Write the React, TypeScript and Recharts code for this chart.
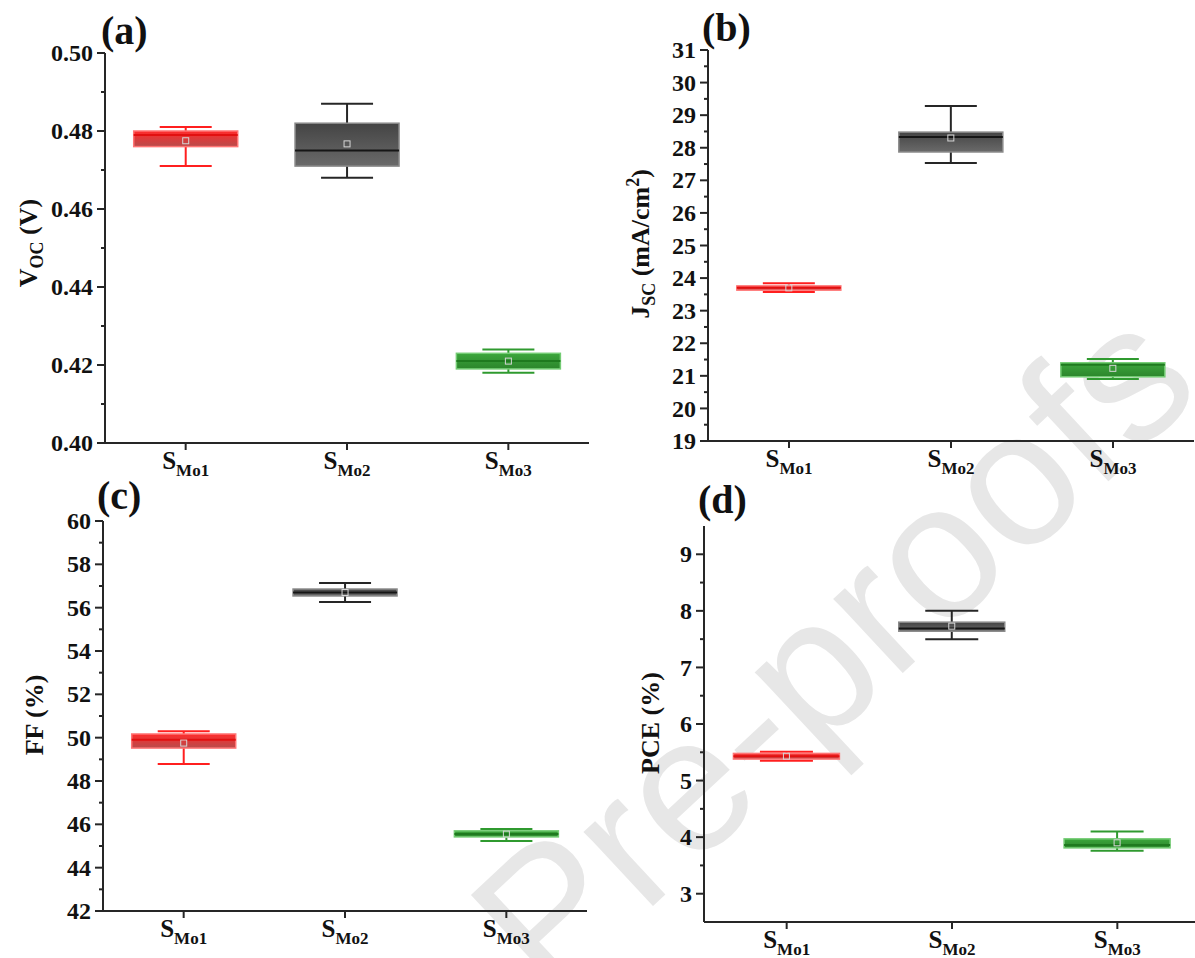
import { BarChart, Bar, XAxis, YAxis } from 'recharts';

const categories = ['SMo1', 'SMo2', 'SMo3'];

// each row: [min, Q1, median, Q3, max, mean]
const vocStats = [
  [0.471, 0.476, 0.479, 0.48, 0.481, 0.4775],
  [0.468, 0.471, 0.475, 0.482, 0.487, 0.4767],
  [0.418, 0.419, 0.421, 0.423, 0.424, 0.421],
];
const jscStats = [
  [23.57, 23.63, 23.7, 23.76, 23.84, 23.7],
  [27.53, 27.87, 28.33, 28.48, 29.28, 28.3],
  [20.9, 20.97, 21.34, 21.4, 21.52, 21.23],
];
const ffStats = [
  [48.79, 49.52, 49.9, 50.17, 50.3, 49.75],
  [56.26, 56.54, 56.7, 56.86, 57.14, 56.7],
  [45.23, 45.42, 45.55, 45.7, 45.78, 45.55],
];
const pceStats = [
  [5.35, 5.38, 5.43, 5.48, 5.51, 5.43],
  [7.5, 7.64, 7.69, 7.8, 8.0, 7.73],
  [3.76, 3.81, 3.86, 3.97, 4.1, 3.9],
];

const vocTicks = [0.4, 0.42, 0.44, 0.46, 0.48, 0.5];
const vocMinor = [0.41, 0.43, 0.45, 0.47, 0.49];
const jscTicks = [19, 20, 21, 22, 23, 24, 25, 26, 27, 28, 29, 30, 31];
const jscMinor = [19.5, 20.5, 21.5, 22.5, 23.5, 24.5, 25.5, 26.5, 27.5, 28.5, 29.5, 30.5];
const ffTicks = [42, 44, 46, 48, 50, 52, 54, 56, 58, 60];
const ffMinor = [43, 45, 47, 49, 51, 53, 55, 57, 59];
const pceTicks = [3, 4, 5, 6, 7, 8, 9];
const pceMinor = [3.5, 4.5, 5.5, 6.5, 7.5, 8.5];

const AXIS = '#262626';
const FONT = '"Liberation Serif", "Times New Roman", serif';

// box colours per sample: gradient top/bottom, edge, whisker, median
const boxFill = [
  ['#ff2b2b', '#b84c4c'],
  ['#444444', '#6a6a6a'],
  ['#3ca63c', '#2c862c'],
];
const boxEdge = ['#ff7474', '#8a8a8a', '#74cc74'];
const whiskerColor = ['#ff1f1f', '#262626', '#2f9a2f'];
const medianColor = ['#e21010', '#161616', '#1f7a1f'];

function BoxShape(props: any) {
  const { x, y, width, height, panel } = props;
  const row = props.payload ?? props;
  const [lo, q1, med, q3, hi, mean] = row.stats as number[];
  const i = row.idx as number;
  const yTop = y;
  const yBot = y + height;
  // pixel position from the bar's own scaled extent (min..max)
  const py = (v: number) => yTop + ((hi - v) / (hi - lo)) * (yBot - yTop);
  const cx = x + width / 2;
  const cap = width * 0.25;
  const boxTop = Math.min(py(q3), py(q1));
  const boxH = Math.abs(py(q1) - py(q3));
  return (
    <g>
      <line x1={cx} x2={cx} y1={py(hi)} y2={py(lo)} stroke={whiskerColor[i]} strokeWidth={2} />
      <line x1={cx - cap} x2={cx + cap} y1={py(hi)} y2={py(hi)} stroke={whiskerColor[i]} strokeWidth={2} />
      <line x1={cx - cap} x2={cx + cap} y1={py(lo)} y2={py(lo)} stroke={whiskerColor[i]} strokeWidth={2} />
      <rect
        x={x}
        y={boxTop}
        width={width}
        height={boxH}
        fill={`url(#grad-${panel}-${i})`}
        stroke={boxEdge[i]}
        strokeWidth={1.5}
      />
      <line x1={x} x2={x + width} y1={py(med)} y2={py(med)} stroke={medianColor[i]} strokeWidth={2} />
      <rect x={cx - 3} y={py(mean) - 3} width={6} height={6} fill="none" stroke="#d6d6d6" strokeWidth={1} />
    </g>
  );
}

function XTick({ x, y, payload }: any) {
  const v = String(payload.value);
  return (
    <text x={x} y={y + 19} textAnchor="middle" fontFamily={FONT} fontWeight="bold" fill="#111">
      <tspan fontSize={25}>{v.slice(0, 1)}</tspan>
      <tspan fontSize={17} dy={7}>
        {v.slice(1)}
      </tspan>
    </text>
  );
}

function YTick({ x, y, payload, majors, fmt }: any) {
  const major = majors.includes(payload.value);
  return (
    <g>
      <line x1={x - (major ? 8 : 4)} x2={x} y1={y} y2={y} stroke={AXIS} strokeWidth={2} />
      {major && (
        <text
          x={x - 12}
          y={y}
          dy="0.34em"
          textAnchor="end"
          fontFamily={FONT}
          fontWeight="bold"
          fontSize={24}
          fill="#111"
        >
          {fmt(payload.value)}
        </text>
      )}
    </g>
  );
}

type PanelProps = {
  id: string;
  left: number;
  top: number;
  x0: number;
  x1: number;
  y0: number;
  y1: number;
  stats: number[][];
  domain: [number, number];
  ticks: number[];
  minor: number[];
  fmt: (v: number) => string;
};

function Panel(p: PanelProps) {
  const rows = categories.map((name, i) => ({
    name,
    idx: i,
    stats: p.stats[i],
    range: [p.stats[i][0], p.stats[i][4]],
  }));
  const w = p.x1 - p.left + 4;
  const h = p.y1 - p.top + 44;
  const line = { stroke: AXIS, strokeWidth: 2 };
  return (
    <div style={{ position: 'absolute', left: p.left, top: p.top }}>
      <BarChart
        width={w}
        height={h}
        data={rows}
        margin={{ top: p.y0 - p.top, right: 4, bottom: 0, left: 0 }}
        barCategoryGap="17.8%"
      >
        <defs>
          {boxFill.map((c, i) => (
            <linearGradient key={i} id={`grad-${p.id}-${i}`} x1="0" y1="0" x2="0" y2="1">
              <stop offset="0%" stopColor={c[0]} />
              <stop offset="100%" stopColor={c[1]} />
            </linearGradient>
          ))}
        </defs>
        <XAxis
          dataKey="name"
          height={44}
          interval={0}
          tickSize={7}
          tickMargin={0}
          tickLine={line}
          axisLine={line}
          tick={(t: any) => <XTick {...t} />}
        />
        <XAxis xAxisId="top" orientation="top" dataKey="name" height={0} tick={false} tickLine={false} axisLine={line} />
        <YAxis
          type="number"
          domain={p.domain}
          allowDataOverflow
          ticks={[...p.ticks, ...p.minor].sort((a, b) => a - b)}
          interval={0}
          width={p.x0 - p.left}
          tickSize={0}
          tickMargin={0}
          tickLine={false}
          axisLine={line}
          tick={(t: any) => <YTick {...t} majors={p.ticks} fmt={p.fmt} />}
        />
        <YAxis
          yAxisId="right"
          orientation="right"
          type="number"
          domain={p.domain}
          allowDataOverflow
          width={0}
          tick={false}
          tickLine={false}
          axisLine={line}
        />
        <Bar dataKey="range" isAnimationActive={false} shape={(s: any) => <BoxShape {...s} panel={p.id} />} />
      </BarChart>
    </div>
  );
}

const intFmt = (v: number) => String(v);

export default function App() {
  return (
    <div
      style={{
        position: 'fixed',
        left: 0,
        top: 0,
        width: 1195,
        height: 958,
        overflow: 'hidden',
        background: '#fff',
      }}
    >
      {/* watermark */}
      <svg width={1195} height={958} style={{ position: 'absolute', left: 0, top: 0 }}>
        <text
          transform="translate(832,648) rotate(-43)"
          textAnchor="middle"
          dominantBaseline="central"
          fontFamily='"Liberation Sans", Arial, sans-serif'
          fontSize={192}
          fill="#e7e7e7"
        >
          Pre-proofs
        </text>
      </svg>

      <Panel id="a" left={0} top={0} x0={105} x1={589} y0={53} y1={443} stats={vocStats} domain={[0.4, 0.5]} ticks={vocTicks} minor={vocMinor} fmt={(v) => v.toFixed(2)} />
      <Panel id="b" left={600} top={0} x0={708} x1={1194} y0={50} y1={441} stats={jscStats} domain={[19, 31]} ticks={jscTicks} minor={jscMinor} fmt={intFmt} />
      <Panel id="c" left={0} top={470} x0={103} x1={587} y0={521} y1={911} stats={ffStats} domain={[42, 60]} ticks={ffTicks} minor={ffMinor} fmt={intFmt} />
      <Panel id="d" left={600} top={470} x0={704} x1={1200} y0={526} y1={922} stats={pceStats} domain={[2.5, 9.5]} ticks={pceTicks} minor={pceMinor} fmt={intFmt} />

      {/* panel letters and axis titles */}
      <svg width={1195} height={958} style={{ position: 'absolute', left: 0, top: 0, pointerEvents: 'none' }}>
        <g fontFamily={FONT} fontWeight="bold" fill="#111">
          <text x={101} y={44} fontSize={40}>(a)</text>
          <text x={702} y={41} fontSize={40}>(b)</text>
          <text x={97} y={509} fontSize={40}>(c)</text>
          <text x={698} y={513} fontSize={40}>(d)</text>
          <text transform="translate(37,243) rotate(-90)" textAnchor="middle" fontSize={26}>
            V<tspan fontSize={18} dy={6}>OC</tspan>
            <tspan dy={-6}> (V)</tspan>
          </text>
          <text transform="translate(649,244) rotate(-90)" textAnchor="middle" fontSize={26}>
            J<tspan fontSize={18} dy={6}>SC</tspan>
            <tspan dy={-6}> (mA/cm</tspan>
            <tspan fontSize={18} dy={-10}>2</tspan>
            <tspan dy={10}>)</tspan>
          </text>
          <text transform="translate(43,715) rotate(-90)" textAnchor="middle" fontSize={26}>
            FF (%)
          </text>
          <text transform="translate(659,723) rotate(-90)" textAnchor="middle" fontSize={26}>
            PCE (%)
          </text>
        </g>
      </svg>
    </div>
  );
}
